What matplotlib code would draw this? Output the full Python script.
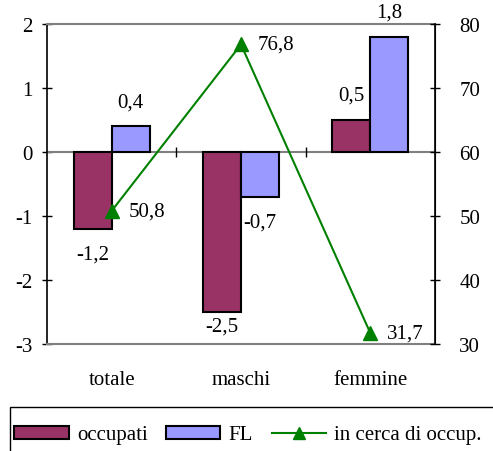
import matplotlib.pyplot as plt
import matplotlib.patches as mpatches
from matplotlib.lines import Line2D
import numpy as np

plt.rcParams["font.family"] = ["Liberation Serif", "DejaVu Serif"]
plt.rcParams["font.size"] = 15
plt.rcParams["axes.unicode_minus"] = False

categorie = ["totale", "maschi", "femmine"]
occupati = [-1.2, -2.5, 0.5]
fl = [0.4, -0.7, 1.8]
in_cerca = [50.8, 76.8, 31.7]

col_occ = "#993366"
col_fl = "#9999FF"
col_line = "#008000"


def fmt(v):
    return f"{v:.1f}".replace(".", ",")


fig = plt.figure(figsize=(4.93, 4.52), dpi=100)
ax = fig.add_axes([47 / 493, 107 / 452, 388 / 493, 320 / 452])

x = np.arange(len(categorie))
w = 0.295
ax.bar(x - w / 2, occupati, w, color=col_occ, edgecolor="black", linewidth=1.5, zorder=3)
ax.bar(x + w / 2, fl, w, color=col_fl, edgecolor="black", linewidth=1.5, zorder=3)


def bar_label(xi, v):
    if v > 0:
        ax.annotate(fmt(v), (xi, v), xytext=(0, 11), textcoords="offset points",
                    ha="center", va="bottom")
    else:
        # labels that would fall below the plot area sit just under the bar
        off = -11 if v > -2 else -3
        ax.annotate(fmt(v), (xi, v), xytext=(0, off), textcoords="offset points",
                    ha="center", va="top")


for xi, v in zip(x - w / 2, occupati):
    bar_label(xi, v)
for xi, v in zip(x + w / 2, fl):
    bar_label(xi, v)

ax.set_xlim(-0.5, 2.5)
ax.set_ylim(-3, 2)
ax.set_yticks(range(-3, 3))
ax.set_xticks(x)
ax.set_xticklabels(categorie)
ax.tick_params(axis="x", length=0, pad=19)
ax.tick_params(axis="y", direction="inout", length=7, width=1, pad=7)

ax.axhline(0, color="#808080", linewidth=1.5, zorder=2)
ax.vlines([0.5, 1.5], -0.08, 0.08, color="black", linewidth=1, zorder=2)

for s in ["top", "bottom"]:
    ax.spines[s].set_color("#808080")
    ax.spines[s].set_linewidth(1.5)
ax.spines["left"].set_linewidth(1.2)

ax2 = ax.twinx()
ax2.plot(x, in_cerca, color=col_line, linewidth=1.5, marker="^", markersize=10, zorder=4)
for xi, v in zip(x, in_cerca):
    ax2.annotate(fmt(v), (xi, v), xytext=(12, 0), textcoords="offset points",
                 ha="left", va="center")
ax2.set_ylim(30, 80)
ax2.set_yticks(range(30, 81, 10))
ax2.tick_params(axis="y", direction="inout", length=7, width=1, pad=14)
ax2.spines["right"].set_linewidth(1.2)
for s in ["top", "bottom", "left"]:
    ax2.spines[s].set_visible(False)

# legend box
fig.patches.append(mpatches.Rectangle((10 / 493, -0.1), 1.2, 0.1 + 44 / 452,
                                      transform=fig.transFigure, fill=False,
                                      edgecolor="black", linewidth=1))
handles = [
    mpatches.Patch(facecolor=col_occ, edgecolor="black", linewidth=1.5, label="occupati"),
    mpatches.Patch(facecolor=col_fl, edgecolor="black", linewidth=1.5, label="FL"),
    Line2D([], [], color=col_line, marker="^", markersize=9, linewidth=1.5,
           label="in cerca di occup."),
]
fig.legend(handles=handles, ncol=3, frameon=False, loc="center left",
           bbox_to_anchor=(6 / 493, 16 / 452), handlelength=2.6, handleheight=0.6,
           handletextpad=0.4, columnspacing=0.9, borderaxespad=0)

fig.savefig("out.png", dpi=100)
